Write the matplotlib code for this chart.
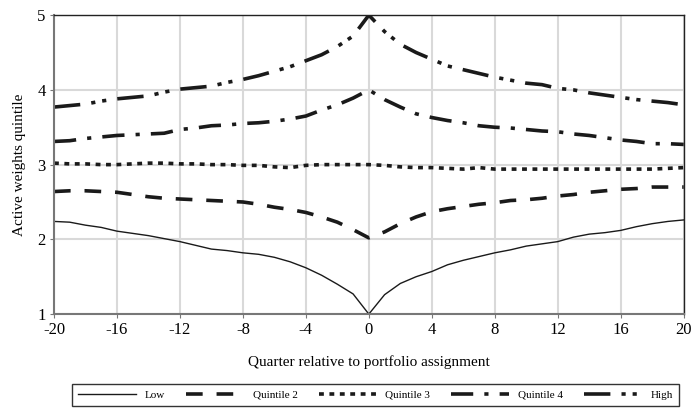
import numpy as np
import matplotlib
matplotlib.use("Agg")
import matplotlib.pyplot as plt

plt.rcParams['font.family'] = ['Liberation Serif', 'DejaVu Serif']
plt.rcParams['lines.scale_dashes'] = False

quarters = np.arange(-20, 21)

# series, quarter -20 .. 20
low = [2.24, 2.23, 2.19, 2.16, 2.11, 2.08, 2.05, 2.01, 1.97, 1.92, 1.87,
       1.85, 1.82, 1.80, 1.76, 1.70, 1.62, 1.52, 1.40, 1.27, 1.00,
       1.26, 1.41, 1.50, 1.57, 1.66, 1.72, 1.77, 1.82, 1.86, 1.91,
       1.94, 1.97, 2.03, 2.07, 2.09, 2.12, 2.17, 2.21, 2.24, 2.26]
quint2 = [2.64, 2.65, 2.65, 2.64, 2.63, 2.60, 2.57, 2.55, 2.54, 2.53, 2.52,
          2.51, 2.50, 2.47, 2.43, 2.40, 2.36, 2.30, 2.23, 2.13, 2.02,
          2.10, 2.21, 2.30, 2.37, 2.41, 2.44, 2.47, 2.49, 2.52, 2.53,
          2.55, 2.58, 2.60, 2.63, 2.65, 2.67, 2.68, 2.70, 2.70, 2.70]
quint3 = [3.02, 3.01, 3.01, 3.00, 3.00, 3.01, 3.02, 3.02, 3.01, 3.01, 3.00,
          3.00, 2.99, 2.99, 2.97, 2.96, 2.99, 3.00, 3.00, 3.00, 3.00,
          2.99, 2.97, 2.96, 2.96, 2.95, 2.94, 2.96, 2.94, 2.94, 2.94,
          2.94, 2.94, 2.94, 2.94, 2.94, 2.94, 2.94, 2.94, 2.95, 2.96]
quint4 = [3.31, 3.32, 3.35, 3.37, 3.39, 3.40, 3.41, 3.42, 3.47, 3.49, 3.52,
          3.53, 3.55, 3.56, 3.58, 3.61, 3.65, 3.73, 3.80, 3.89, 4.00,
          3.87, 3.77, 3.68, 3.63, 3.59, 3.56, 3.52, 3.50, 3.49, 3.47,
          3.45, 3.44, 3.41, 3.39, 3.36, 3.33, 3.31, 3.28, 3.28, 3.27]
high = [3.77, 3.79, 3.81, 3.85, 3.88, 3.90, 3.92, 3.97, 4.01, 4.03, 4.05,
        4.10, 4.14, 4.19, 4.25, 4.31, 4.39, 4.47, 4.58, 4.72, 5.00,
        4.78, 4.61, 4.50, 4.41, 4.32, 4.27, 4.22, 4.17, 4.13, 4.09,
        4.07, 4.02, 4.00, 3.96, 3.93, 3.90, 3.87, 3.85, 3.83, 3.80]

xticks = np.arange(-20, 21, 4)
yticks = [1, 2, 3, 4, 5]

fig = plt.figure(figsize=(6.92, 4.09), dpi=100)
ax = fig.add_axes([0.078, 0.232, 0.910, 0.731])

ink = '#1a1a1a'
ax.plot(quarters, low, color=ink, lw=1.0, label='Low')
ax.plot(quarters, quint2, color=ink, lw=2.6, dashes=(12, 10), label='Quintile 2')
ax.plot(quarters, quint3, color=ink, lw=2.6, dashes=(3.5, 4), label='Quintile 3')
ax.plot(quarters, quint4, color=ink, lw=2.6, dashes=(16, 8, 3, 8), label='Quintile 4')
ax.plot(quarters, high, color=ink, lw=2.6, dashes=(19, 8, 3, 5, 3, 8), label='High')

ax.set_xlim(-20, 20)
ax.set_ylim(1, 5)
ax.set_xticks(xticks)
ax.set_xticklabels([str(t) for t in xticks])
ax.set_yticks(yticks)
ax.grid(True, color='#d9d9d9', lw=1.5)
ax.set_axisbelow(True)

for side in ['left', 'bottom']:
    ax.spines[side].set_color('#777777')
    ax.spines[side].set_linewidth(1.5)
for side in ['top', 'right']:
    ax.spines[side].set_color('#222222')
    ax.spines[side].set_linewidth(1.0)
ax.tick_params(axis='both', labelsize=12, length=3, color='#777777', pad=3)

ax.set_xlabel('Quarter relative to portfolio assignment', fontsize=11, labelpad=12)
ax.set_ylabel('Active weights quintile', fontsize=11, labelpad=8)

leg = fig.legend(loc='upper left', bbox_to_anchor=(0.104, 0.0, 0.877, 0.061),
                 mode='expand', ncol=5, fontsize=8, handlelength=5.2,
                 frameon=True, fancybox=False, borderaxespad=0, borderpad=0.55)
leg.get_frame().set_edgecolor('black')
leg.get_frame().set_linewidth(1.0)

fig.savefig('out.png', dpi=100)
